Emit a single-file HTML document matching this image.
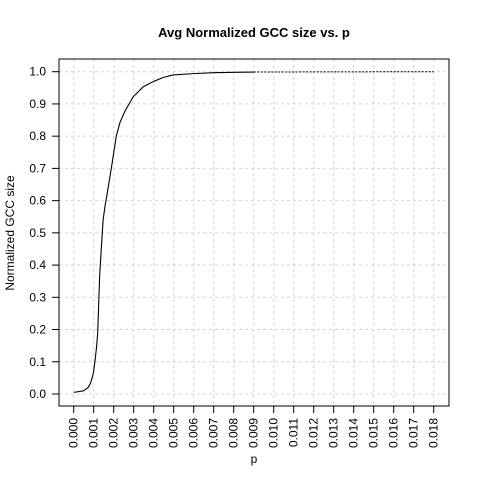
<!DOCTYPE html>
<html><head><meta charset="utf-8"><style>
body{margin:0;background:#fff;}
text{font-family:"Liberation Sans",Arial,sans-serif;}
</style></head><body>
<svg id="chart" width="480" height="480" xmlns="http://www.w3.org/2000/svg">
<rect width="480" height="480" fill="#fff"/>
<text x="254" y="37" text-anchor="middle" font-size="13" font-weight="bold">Avg Normalized GCC size vs. p</text>
<text x="254" y="463" text-anchor="middle" font-size="12">p</text>
<text transform="translate(14,233) rotate(-90)" text-anchor="middle" font-size="12">Normalized GCC size</text>
<g id="grid"></g><g id="axes"></g><g id="series"></g>
<rect x="59" y="59" width="390" height="347" fill="none" stroke="#000" stroke-width="1"/>
</svg>
<script>
const pValues=[0,0.0005,0.00072,0.00085,0.00098,0.00107,0.00115,0.0012,0.0013,0.0014,0.00147,0.00157,0.00167,0.00188,0.00213,0.0023,0.00255,0.00297,0.00347,0.00397,0.00447,0.00497,0.006,0.007,0.008,0.009];
const gccValues=[0.005,0.01,0.02,0.035,0.064,0.105,0.15,0.19,0.37,0.47,0.54,0.585,0.62,0.70,0.80,0.84,0.876,0.922,0.953,0.969,0.982,0.99,0.994,0.997,0.998,0.999];
const tailP=[0.009,0.018];
const tailGcc=[0.999,1.0];
const xTicks=[0,0.001,0.002,0.003,0.004,0.005,0.006,0.007,0.008,0.009,0.010,0.011,0.012,0.013,0.014,0.015,0.016,0.017,0.018];
const yTicks=[0,0.1,0.2,0.3,0.4,0.5,0.6,0.7,0.8,0.9,1.0];
const NS="http://www.w3.org/2000/svg";
const xs=p=>73.7+p*20000;
const ys=v=>394-v*322.3;
function mk(tag,attrs,parent){const e=document.createElementNS(NS,tag);for(const k in attrs)e.setAttribute(k,attrs[k]);parent.appendChild(e);return e;}
const grid=document.getElementById('grid'),axes=document.getElementById('axes'),series=document.getElementById('series');
xTicks.forEach(t=>{const x=xs(t);
 const g=mk('line',{x1:x,x2:x,y1:59,y2:406,stroke:'#d3d3d3','stroke-dasharray':'3,3'},grid);
 
 
 const tk=mk('line',{x1:x,x2:x,y1:406,y2:413,stroke:'#000'},axes);
 
 
 const lb=mk('text',{transform:`translate(${x+4},418) rotate(-90)`,'text-anchor':'end','font-size':'12'},axes);
 lb.textContent=t.toFixed(3);
 
 
});
yTicks.forEach(t=>{const y=ys(t);
 const g=mk('line',{x1:59,x2:449,y1:y,y2:y,stroke:'#d3d3d3','stroke-dasharray':'3,3'},grid);
 
 
 const tk=mk('line',{x1:52,x2:59,y1:y,y2:y,stroke:'#000'},axes);
 
 
 const lb=mk('text',{x:46,y:y+4,'text-anchor':'end','font-size':'12'},axes);
 lb.textContent=t.toFixed(1);
 
 
});
const line=mk('polyline',{points:pValues.map((p,i)=>xs(p)+','+ys(gccValues[i])).join(' '),fill:'none',stroke:'#000','stroke-width':'1.1','stroke-linejoin':'round'},series);


const tail=mk('polyline',{points:tailP.map((p,i)=>xs(p)+','+ys(tailGcc[i])).join(' '),fill:'none',stroke:'#000','stroke-width':'1','stroke-dasharray':'2,1.5'},series);


</script>
</body></html>
